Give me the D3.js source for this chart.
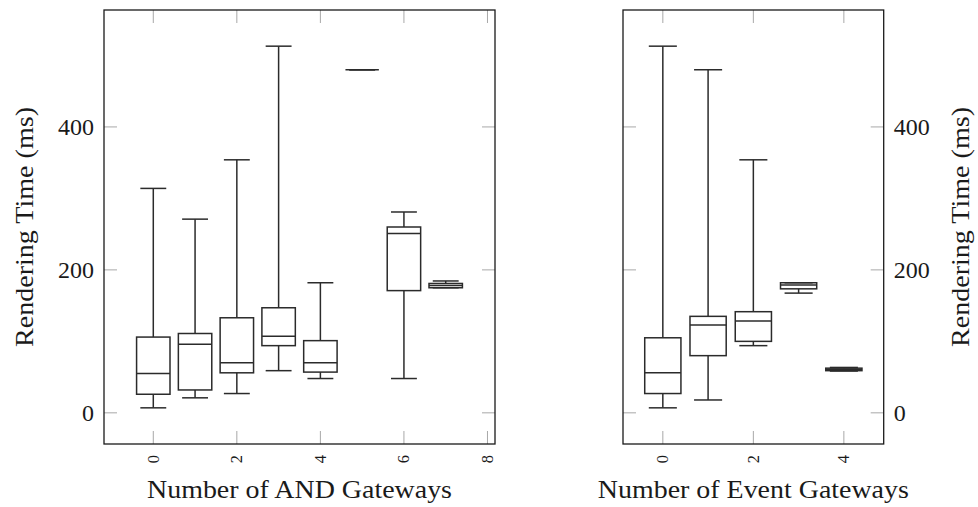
<!DOCTYPE html>
<html>
<head>
<meta charset="utf-8">
<script src="https://cdn.jsdelivr.net/npm/d3@7"></script>
<style>
  html, body { margin: 0; padding: 0; background: #fff; }
  svg { display: block; }
  text { font-family: "Liberation Serif", "Times New Roman", serif; fill: #1a1a1a; }
</style>
</head>
<body>
<svg id="chart" width="978" height="507"></svg>
<script>
// Rendering time statistics (ms): [min, q1, median, q3, max] per gateway count
const andGatewayCounts = [0, 1, 2, 3, 4, 5, 6, 7];
const andGatewayStats = [
  [7, 26, 55, 106, 314],
  [21, 32, 96, 111, 271],
  [27, 56, 70, 133, 354],
  [59, 94, 107, 147, 513],
  [48, 57, 70, 101, 182],
  [480, 480, 480, 480, 480],
  [48, 171, 251, 260, 281],
  [175, 175, 178, 181, 184.5]
];
const eventGatewayCounts = [0, 1, 2, 3, 4];
const eventGatewayStats = [
  [7, 27, 56, 105, 513],
  [18, 80, 123, 135, 480],
  [94, 100, 128.5, 141.5, 354],
  [167.5, 173.5, 179, 182, 182],
  [58.5, 59, 60.5, 62.5, 63.5]
];
const yTickValues = [0, 200, 400];
const andXTicks = [0, 2, 4, 6, 8];
const eventXTicks = [0, 2, 4];
const yTitle = "Rendering Time (ms)";
const andTitle = "Number of AND Gateways";
const eventTitle = "Number of Event Gateways";

const svg = d3.select("#chart");
const BOX_W = 0.8;      // box width in category units
const CAP_W = 0.62;     // whisker cap width in category units
const TOP = 10, BOTTOM = 444;

// pgfplots-style 10% enlargement of the data limits
function padded(lo, hi) {
  const r = hi - lo;
  return [lo - 0.1 * r, hi + 0.1 * r];
}

const allVals = andGatewayStats.flat().concat(eventGatewayStats.flat());
const yDomain = padded(d3.min(allVals), d3.max(allVals));

function panel(opts) {
  const { x0, x1, cats, stats, xTicks, yAxisSide, xTitle, titleLen } = opts;
  const xDomain = padded(d3.min(cats) - BOX_W / 2, d3.max(cats) + BOX_W / 2);
  const x = d3.scaleLinear().domain(xDomain).range([x0, x1]);
  const y = d3.scaleLinear().domain(yDomain).range([BOTTOM, TOP]);
  const g = svg.append("g");
  const tickLen = 13;
  const tickColor = "#a8a8a8";

  // inner ticks on all four sides
  const tk = g.append("g").attr("stroke", tickColor).attr("stroke-width", 1);
  xTicks.forEach(t => {
    tk.append("line").attr("x1", x(t)).attr("x2", x(t)).attr("y1", BOTTOM).attr("y2", BOTTOM - tickLen);
    tk.append("line").attr("x1", x(t)).attr("x2", x(t)).attr("y1", TOP).attr("y2", TOP + tickLen);
  });
  yTickValues.forEach(t => {
    tk.append("line").attr("x1", x0).attr("x2", x0 + tickLen).attr("y1", y(t)).attr("y2", y(t));
    tk.append("line").attr("x1", x1).attr("x2", x1 - tickLen).attr("y1", y(t)).attr("y2", y(t));
  });

  // boxes
  const boxes = g.append("g").attr("stroke", "#2b2b2b").attr("stroke-width", 1.5).attr("fill", "none");
  cats.forEach((c, i) => {
    const [mn, q1, md, q3, mx] = stats[i];
    const bg = boxes.append("g");
    bg.append("line").attr("x1", x(c)).attr("x2", x(c)).attr("y1", y(q3)).attr("y2", y(mx));
    bg.append("line").attr("x1", x(c)).attr("x2", x(c)).attr("y1", y(q1)).attr("y2", y(mn));
    bg.append("line").attr("x1", x(c - CAP_W / 2)).attr("x2", x(c + CAP_W / 2)).attr("y1", y(mx)).attr("y2", y(mx));
    bg.append("line").attr("x1", x(c - CAP_W / 2)).attr("x2", x(c + CAP_W / 2)).attr("y1", y(mn)).attr("y2", y(mn));
    bg.append("rect").attr("x", x(c - BOX_W / 2)).attr("width", x(c + BOX_W / 2) - x(c - BOX_W / 2))
      .attr("y", y(q3)).attr("height", y(q1) - y(q3));
    bg.append("line").attr("x1", x(c - BOX_W / 2)).attr("x2", x(c + BOX_W / 2)).attr("y1", y(md)).attr("y2", y(md));
  });

  // frame
  g.append("rect").attr("x", x0).attr("y", TOP).attr("width", x1 - x0).attr("height", BOTTOM - TOP)
    .attr("fill", "none").attr("stroke", "#1a1a1a").attr("stroke-width", 1.3);

  // x tick labels, rotated to read upwards
  xTicks.forEach(t => {
    g.append("text")
      .attr("transform", `translate(${x(t) + 5.5},455) rotate(-90)`)
      .attr("text-anchor", "end")
      .attr("font-size", 16.5)
      .text(t);
  });

  // y tick labels
  yTickValues.forEach(t => {
    const left = yAxisSide === "left";
    g.append("text")
      .attr("x", left ? x0 - 10 : x1 + 10)
      .attr("y", y(t) + 8)
      .attr("text-anchor", left ? "end" : "start")
      .attr("font-size", 24)
      .text(t);
  });

  // axis titles
  g.append("text")
    .attr("x", (x0 + x1) / 2).attr("y", 498)
    .attr("text-anchor", "middle").attr("font-size", 25)
    .attr("textLength", titleLen).attr("lengthAdjust", "spacingAndGlyphs")
    .text(xTitle);

  const tx = yAxisSide === "left" ? 33 : 969;
  g.append("text")
    .attr("transform", `translate(${tx},${(TOP + BOTTOM) / 2}) rotate(-90)`)
    .attr("text-anchor", "middle").attr("font-size", 25)
    .attr("textLength", 240).attr("lengthAdjust", "spacingAndGlyphs")
    .text(yTitle);
}

panel({ x0: 104, x1: 495, cats: andGatewayCounts, stats: andGatewayStats, xTicks: andXTicks,
        yAxisSide: "left", xTitle: andTitle, titleLen: 305 });
panel({ x0: 623, x1: 883.7, cats: eventGatewayCounts, stats: eventGatewayStats, xTicks: eventXTicks,
        yAxisSide: "right", xTitle: eventTitle, titleLen: 311 });
</script>
</body>
</html>
